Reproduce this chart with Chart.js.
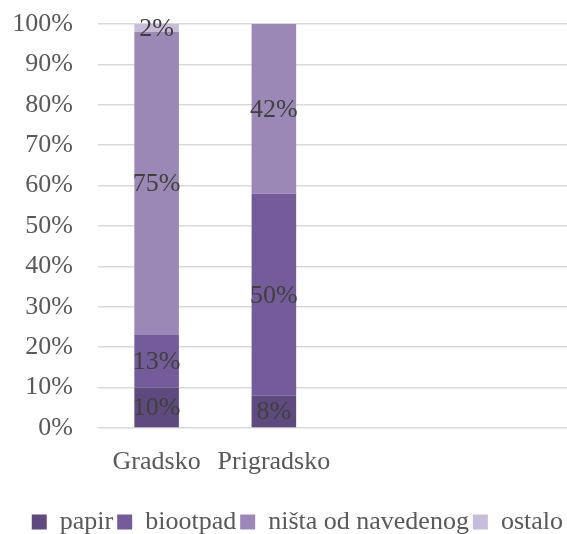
<!DOCTYPE html>
<html>
<head>
<meta charset="utf-8">
<script src="https://cdn.jsdelivr.net/npm/chart.js@4/dist/chart.umd.min.js"></script>
<style>
  body { margin: 0; background: #fff; }
  #wrap { width: 567px; height: 534px; }
</style>
</head>
<body>
<div id="wrap"><canvas id="waste-chart"></canvas></div>
<script>
// two real categories, the other two slots are empty in the original
const categories = ['Gradsko', 'Prigradsko', '', ''];
const papir = [10, 8, null, null];
const biootpad = [13, 50, null, null];
const nistaOdNavedenog = [75, 42, null, null];
const ostalo = [2, 0, null, null];
const yTicks = [0, 10, 20, 30, 40, 50, 60, 70, 80, 90, 100];

const FONT = '"Liberation Serif", "Times New Roman", serif';
Chart.defaults.font.family = FONT;
Chart.defaults.font.size = 26;
Chart.defaults.color = '#595959';

// percent labels inside each segment
const barLabels = {
  id: 'barLabels',
  afterDatasetsDraw(chart) {
    const ctx = chart.ctx;
    ctx.save();
    ctx.font = '26px ' + FONT;
    ctx.fillStyle = '#404040';
    ctx.textAlign = 'center';
    ctx.textBaseline = 'middle';
    chart.data.datasets.forEach((ds, i) => {
      chart.getDatasetMeta(i).data.forEach((bar, j) => {
        const v = ds.data[j];
        if (!v) return;
        const p = bar.getCenterPoint();
        ctx.fillText(v + '%', p.x, p.y + 1);
      });
    });
    ctx.restore();
  }
};

const ctx = document.getElementById('waste-chart');
const myChart = new Chart(ctx, {
  type: 'bar',
  data: {
    labels: categories,
    datasets: [
      { label: 'papir', data: papir, backgroundColor: '#5f4a7f' },
      { label: 'biootpad', data: biootpad, backgroundColor: '#745b9a' },
      { label: 'ništa od navedenog', data: nistaOdNavedenog, backgroundColor: '#9c88b6' },
      { label: 'ostalo', data: ostalo, backgroundColor: '#c7bdda' }
    ]
  },
  options: {
    responsive: true,
    maintainAspectRatio: false,
    animation: false,
    datasets: { bar: { categoryPercentage: 1, barPercentage: 0.38 } },
    layout: { padding: { top: 0, left: 1, right: 0, bottom: -11 } },
    scales: {
      x: {
        stacked: true,
        grid: { display: false },
        border: { display: false },
        ticks: { padding: 11, maxRotation: 0, minRotation: 0, autoSkip: false, font: { family: FONT, size: 26 } },
        afterFit: (axis) => { axis.height = 77; }
      },
      y: {
        stacked: true,
        min: 0,
        max: 100,
        afterBuildTicks: (axis) => { axis.ticks = yTicks.map(v => ({ value: v })); },
        grid: { color: '#d9d9d9', lineWidth: 1.5, drawTicks: false },
        border: { display: false },
        ticks: { padding: 25, font: { family: FONT, size: 26 }, callback: (v) => v + '%' },
        // tick padding would otherwise push the plot top down
        afterFit: (axis) => { axis.width = 97; axis.paddingTop = 24; axis.paddingBottom = 0; }
      }
    },
    plugins: {
      legend: {
        position: 'bottom',
        align: 'end',
        labels: { boxWidth: 15, boxHeight: 15, padding: 4, color: '#595959', font: { family: FONT, size: 26 } }
      },
      tooltip: { enabled: false }
    }
  },
  plugins: [barLabels]
});
</script>
</body>
</html>
